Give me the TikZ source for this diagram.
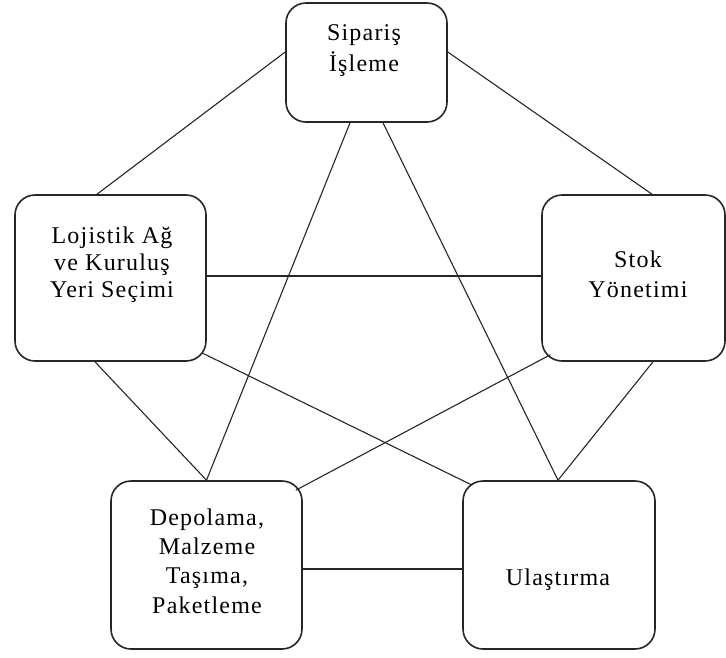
\documentclass[tikz,border=0pt]{standalone}
\usepackage{fontspec}
\setmainfont{Liberation Serif}[LetterSpace=5]
\usetikzlibrary{calc}
\begin{document}
\begin{tikzpicture}[x=1pt,y=-1pt,
  box/.style 2 args={draw=black!85, line width=1.6pt, rounded corners=20pt, fill=white,
    minimum width=#1, minimum height=#2, inner sep=0pt},
  conn/.style={line width=1.1pt, draw=black!85},
  lbl/.style={align=center, font=\fontsize{24}{#1}\selectfont, anchor=base, inner sep=0pt},
  lbl/.default=29]
\useasboundingbox[fill=white] (0,0) rectangle (726,657);
% boxes
\node[box={161}{119}] (T)  at (366.5,62.5) {};
\node[box={191}{166}] (L)  at (110.5,278) {};
\node[box={183}{166}] (R)  at (633.5,278) {};
\node[box={191}{168}] (BL) at (206.5,565) {};
\node[box={192}{168}] (BR) at (559,565) {};
% texts (anchored at the baseline of the last line)
\node[lbl=31] (tT)  at (364,71)  {Sipariş\\İşleme};
\node[lbl=27] (tL)  at (112,297) {Lojistik Ağ\\ve Kuruluş\\Yeri Seçimi};
\node[lbl=30] (tR)  at (638,297) {Stok\\Yönetimi};
\node[lbl=29.3] (tBL) at (207,613) {Depolama,\\Malzeme\\Taşıma,\\Paketleme};
\node[lbl] (tBR) at (558,585) {Ulaştırma};
% connectors
\draw[conn] ($(T.west)+(0,-10.5)$) -- ($(L.north)+(-13.5,0)$);
\draw[conn] ($(T.east)+(0,-10.5)$) -- ($(R.north)+(18.5,0)$);
\draw[conn] ($(T.south)+(-16.5,0)$) -- (BL.north);
\draw[conn] ($(T.south)+(16.5,0)$) -- ($(BR.north)+(-1,0)$);
\draw[conn] ($(L.east)+(0,-2)$) -- ($(R.west)+(0,-2)$);
\draw[conn] ($(L.south)+(-15.5,0)$) -- (BL.north);
\draw[conn] ($(L.south east)+(-5,-9)$) -- ($(BR.north west)+(10,5)$);
\draw[conn] ($(R.south west)+(9,-7)$) -- ($(BL.north east)+(-7,10)$);
\draw[conn] ($(R.south)+(19.5,0)$) -- ($(BR.north)+(-1,0)$);
\draw[conn] ($(BL.east)+(0,4)$) -- ($(BR.west)+(0,4)$);
\end{tikzpicture}
\end{document}
